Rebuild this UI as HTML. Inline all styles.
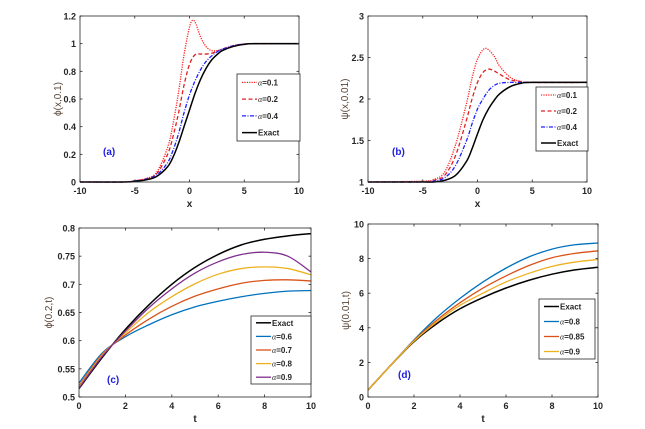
<!DOCTYPE html>
<html><head><meta charset="utf-8">
<style>
html,body{margin:0;padding:0;background:#fff;}
svg{display:block;font-family:"Liberation Sans",sans-serif;}
</style></head>
<body>
<svg id="fig" width="645" height="429" viewBox="0 0 645 429" xmlns="http://www.w3.org/2000/svg"></svg>
<script>
// ---------- Panel (a) data ----------
const aX_exact = [-10,-6,-5,-4,-3,-2,-1.5,-1,-0.5,0,0.5,1,1.5,2,2.5,3,4,5,6,10];
const aY_exact = [0,0,0.005,0.015,0.04,0.11,0.18,0.28,0.4,0.52,0.64,0.74,0.82,0.88,0.92,0.95,0.98,0.995,1,1];
const aX_a04 = [-10,-6,-5,-4,-3,-2,-1.5,-1,-0.5,0,0.5,1,1.5,2,2.5,3,4,5,6,10];
const aY_a04 = [0,0,0.007,0.02,0.05,0.14,0.23,0.35,0.5,0.63,0.73,0.81,0.87,0.91,0.94,0.96,0.985,0.997,1,1];
const aX_a02 = [-10,-6,-5,-4,-3,-2,-1.5,-1,-0.5,0,0.5,1,1.5,2,2.5,3,4,5,6,10];
const aY_a02 = [0,0,0.008,0.022,0.06,0.2,0.33,0.5,0.7,0.85,0.92,0.925,0.925,0.93,0.945,0.96,0.985,0.997,1,1];
const aX_a01 = [-10,-6,-5,-4,-3,-2,-1.5,-1,-0.5,0,0.3,0.6,1,1.5,2,2.5,3,4,5,6,10];
const aY_a01 = [0,0,0.01,0.025,0.07,0.25,0.42,0.65,0.92,1.12,1.17,1.14,1.05,0.98,0.95,0.95,0.96,0.985,0.997,1,1];
// ---------- Panel (b) data ----------
const bX_exact = [-10,-5,-4,-3,-2,-1,-0.5,0,0.5,1,1.5,2,3,4,5,10];
const bY_exact = [1,1,1.0,1.02,1.08,1.25,1.4,1.58,1.75,1.88,1.98,2.06,2.15,2.19,2.2,2.2];
const bX_a04 = [-10,-5,-4,-3,-2,-1,-0.5,0,0.5,1,1.5,2,3,4,10];
const bY_a04 = [1,1,1.01,1.05,1.2,1.5,1.7,1.88,2.0,2.1,2.16,2.19,2.2,2.2,2.2];
const bX_a02 = [-10,-5,-4,-3,-2,-1,-0.5,0,0.5,1,1.5,2,3,4,5,10];
const bY_a02 = [1,1.005,1.02,1.08,1.32,1.75,2.0,2.2,2.32,2.36,2.34,2.3,2.23,2.21,2.2,2.2];
const bX_a01 = [-10,-5,-4,-3,-2,-1,-0.5,0,0.7,1.5,2,3,4,5,10];
const bY_a01 = [1,1.01,1.03,1.12,1.45,1.95,2.25,2.48,2.61,2.52,2.4,2.26,2.21,2.2,2.2];
// ---------- Panel (c) data ----------
const cT = [0,1,2,3,4,5,6,7,8,9,10];
const cExact = [0.515,0.57,0.62,0.663,0.7,0.73,0.753,0.77,0.78,0.786,0.79];
const cA06 = [0.525,0.578,0.607,0.628,0.646,0.66,0.67,0.678,0.684,0.688,0.689];
const cA07 = [0.52,0.576,0.61,0.638,0.661,0.679,0.692,0.702,0.707,0.708,0.706];
const cA08 = [0.518,0.574,0.614,0.65,0.678,0.701,0.718,0.728,0.731,0.728,0.717];
const cA09 = [0.516,0.572,0.617,0.658,0.692,0.72,0.74,0.753,0.757,0.75,0.722];
// ---------- Panel (d) data ----------
const dT = [0,1,2,3,4,5,6,7,8,9,10];
const dExact = [0.4,1.85,3.2,4.25,5.1,5.75,6.3,6.75,7.1,7.35,7.5];
const dA08 = [0.4,1.85,3.3,4.6,5.7,6.65,7.45,8.1,8.55,8.8,8.9];
const dA085 = [0.4,1.85,3.27,4.45,5.45,6.3,7.0,7.6,8.05,8.3,8.45];
const dA09 = [0.4,1.85,3.23,4.35,5.3,6.0,6.65,7.15,7.55,7.8,7.95];
// ticks
const aXTicks = [-10,-5,0,5,10];
const aYTicks = [0,0.2,0.4,0.6,0.8,1,1.2];
const bYTicks = [1,1.5,2,2.5,3];
const cXTicks = [0,2,4,6,8,10];
const cYTicks = [0.5,0.55,0.6,0.65,0.7,0.75,0.8];
const dYTicks = [0,2,4,6,8,10];

const NS = "http://www.w3.org/2000/svg";
const svg = document.getElementById('fig');
function mk(tag, attrs, parent){
  const e = document.createElementNS(NS, tag);
  for (const k in attrs) e.setAttribute(k, attrs[k]);
  (parent||svg).appendChild(e);
  return e;
}
function smoothPath(pts){
  let d = "M" + pts[0][0].toFixed(2) + "," + pts[0][1].toFixed(2);
  for (let i=0;i<pts.length-1;i++){
    const p0 = pts[i-1]||pts[i], p1=pts[i], p2=pts[i+1], p3=pts[i+2]||p2;
    const c1x = p1[0]+(p2[0]-p0[0])/6, c1y = p1[1]+(p2[1]-p0[1])/6;
    const c2x = p2[0]-(p3[0]-p1[0])/6, c2y = p2[1]-(p3[1]-p1[1])/6;
    d += " C"+c1x.toFixed(2)+","+c1y.toFixed(2)+" "+c2x.toFixed(2)+","+c2y.toFixed(2)+" "+p2[0].toFixed(2)+","+p2[1].toFixed(2);
  }
  return d;
}
function panel(cfg){
  const g = mk('g', {});
  
  
  const L=cfg.box[0], T=cfg.box[1], R=cfg.box[2], B=cfg.box[3];
  const sx = v => L + (v-cfg.xr[0])/(cfg.xr[1]-cfg.xr[0])*(R-L);
  const sy = v => B - (v-cfg.yr[0])/(cfg.yr[1]-cfg.yr[0])*(B-T);
  cfg.series.forEach(s=>{
    const pts = s.x.map((xv,i)=>[sx(xv), sy(s.y[i])]);
    const p = mk('path', {d: smoothPath(pts), fill:'none', stroke:s.color, 'stroke-width':s.w||1.3, 'stroke-dasharray':s.dash||'none'}, g);
    
    
  });
  const box = mk('rect', {x:L, y:T, width:R-L, height:B-T, fill:'none', stroke:'#262626', 'stroke-width':0.8}, g);
  
  
  cfg.xt.forEach(v=>{
    const x=sx(v);
    mk('line',{x1:x,y1:B,x2:x,y2:B-2.5,stroke:'#262626','stroke-width':0.8},g);
    mk('line',{x1:x,y1:T,x2:x,y2:T+2.5,stroke:'#262626','stroke-width':0.8},g);
    const t = mk('text',{x:x,y:B+12,'text-anchor':'middle','font-size':9,'font-weight':'bold',fill:'#262626'},g);
    t.textContent = v;
    
    
  });
  cfg.yt.forEach(v=>{
    const y=sy(v);
    mk('line',{x1:L,y1:y,x2:L+2.5,y2:y,stroke:'#262626','stroke-width':0.8},g);
    mk('line',{x1:R,y1:y,x2:R-2.5,y2:y,stroke:'#262626','stroke-width':0.8},g);
    const t = mk('text',{x:L-4,y:y+3.5,'text-anchor':'end','font-size':9,'font-weight':'bold',fill:'#262626'},g);
    t.textContent = v;
    
    
  });
  const xl = mk('text',{x:(L+R)/2,y:B+25,'text-anchor':'middle','font-size':10,'font-weight':'bold',fill:'#262626'},g);
  xl.textContent = cfg.xlabel;
  
  
  const yl = mk('text',{x:0,y:0,'text-anchor':'middle','font-size':10,fill:'#5a4535',transform:'translate('+(cfg.ylx)+','+((T+B)/2)+') rotate(-90)'},g);
  yl.textContent = cfg.ylabel;
  
  
  const pl = mk('text',{x:cfg.plabel[0],y:cfg.plabel[1],'font-size':10,'font-weight':'bold',fill:'#2020e0'},g);
  pl.textContent = cfg.plabel[2];
  
  
  const lg = mk('g',{},g);
  
  
  const lb = cfg.legend;
  mk('rect',{x:lb[0],y:lb[1],width:lb[2]-lb[0],height:lb[3]-lb[1],fill:'#fff',stroke:'#262626','stroke-width':0.8},lg);
  const n = cfg.legendOrder.length, step=(lb[3]-lb[1])/n;
  cfg.legendOrder.forEach((idx,i)=>{
    const s = cfg.series[idx];
    const y = lb[1]+step*(i+0.5);
    const e = mk('g',{},lg);
    
    
    mk('line',{x1:lb[0]+5,y1:y,x2:lb[0]+20,y2:y,stroke:s.color,'stroke-width':s.w||1.3,'stroke-dasharray':s.dash||'none'},e);
    const t = mk('text',{x:lb[0]+21,y:y+3,'font-size':8,'font-weight':'bold',fill:'#262626'},e);
    if (s.label==='Exact') t.textContent='Exact';
    else { const a=mk('tspan',{'font-style':'italic','font-weight':'normal','font-family':'"Liberation Serif",serif'},t); a.textContent='α'; const b=mk('tspan',{},t); b.textContent='='+s.label; }
  });
}
panel({name:'panel-a', box:[80,16,299,182], xr:[-10,10], yr:[0,1.2], xt:aXTicks, yt:aYTicks,
  xlabel:'x', ylabel:'ϕ(x,0.1)', ylx:61, plabel:[103,155,'(a)'], legend:[237,74,300,141], legendOrder:[0,1,2,3],
  series:[
    {id:'series-alpha-0.1', x:aX_a01, y:aY_a01, color:'#ff2020', dash:'1.2 1.2', label:'0.1'},
    {id:'series-alpha-0.2', x:aX_a02, y:aY_a02, color:'#e02020', dash:'4 2.5', label:'0.2'},
    {id:'series-alpha-0.4', x:aX_a04, y:aY_a04, color:'#2020ff', dash:'4 1.5 1 1.5', label:'0.4'},
    {id:'series-exact', x:aX_exact, y:aY_exact, color:'#000', w:1.5, label:'Exact'}
  ]});
panel({name:'panel-b', box:[368,16,587,182], xr:[-10,10], yr:[1,3], xt:aXTicks, yt:bYTicks,
  xlabel:'x', ylabel:'ψ(x,0.01)', ylx:348, plabel:[392,155,'(b)'], legend:[536,87,588,151], legendOrder:[0,1,2,3],
  series:[
    {id:'series-alpha-0.1', x:bX_a01, y:bY_a01, color:'#ff2020', dash:'1.2 1.2', label:'0.1'},
    {id:'series-alpha-0.2', x:bX_a02, y:bY_a02, color:'#e02020', dash:'4 2.5', label:'0.2'},
    {id:'series-alpha-0.4', x:bX_a04, y:bY_a04, color:'#2020ff', dash:'4 1.5 1 1.5', label:'0.4'},
    {id:'series-exact', x:bX_exact, y:bY_exact, color:'#000', w:1.5, label:'Exact'}
  ]});
panel({name:'panel-c', box:[79,228,311,397], xr:[0,10], yr:[0.5,0.8], xt:cXTicks, yt:cYTicks,
  xlabel:'t', ylabel:'ϕ(0.2,t)', ylx:52, plabel:[107,383,'(c)'], legend:[251,316,311,384], legendOrder:[0,1,2,3,4],
  series:[
    {id:'series-exact', x:cT, y:cExact, color:'#000', w:1.5, label:'Exact'},
    {id:'series-alpha-0.6', x:cT, y:cA06, color:'#0072BD', label:'0.6'},
    {id:'series-alpha-0.7', x:cT, y:cA07, color:'#D95319', label:'0.7'},
    {id:'series-alpha-0.8', x:cT, y:cA08, color:'#EDB120', label:'0.8'},
    {id:'series-alpha-0.9', x:cT, y:cA09, color:'#7E2F8E', label:'0.9'}
  ]});
panel({name:'panel-d', box:[368,224,598,397], xr:[0,10], yr:[0,10], xt:cXTicks, yt:dYTicks,
  xlabel:'t', ylabel:'ψ(0.01,t)', ylx:349, plabel:[398,378,'(d)'], legend:[539,299,595,359], legendOrder:[0,1,2,3],
  series:[
    {id:'series-exact', x:dT, y:dExact, color:'#000', w:1.5, label:'Exact'},
    {id:'series-alpha-0.8', x:dT, y:dA08, color:'#0072BD', label:'0.8'},
    {id:'series-alpha-0.85', x:dT, y:dA085, color:'#D95319', label:'0.85'},
    {id:'series-alpha-0.9', x:dT, y:dA09, color:'#EDB120', label:'0.9'}
  ]});
</script>
</body></html>
